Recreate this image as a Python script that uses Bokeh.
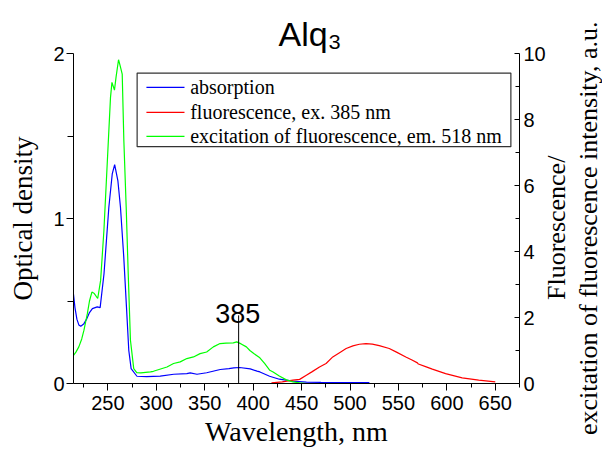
from bokeh.plotting import figure
from bokeh.layouts import row
from bokeh.models import (Range1d, LinearAxis, FixedTicker, SingleIntervalTicker,
                          Label, Arrow, Div)
from bokeh.embed import file_html
from bokeh.resources import INLINE

# ---------------- data ----------------
abs_wavelength = [214.5, 216, 218, 220, 222, 225, 228, 231, 234, 239, 242, 246, 251,
                  254.5, 257, 260.3, 263, 266.4, 269.2, 271.6, 274, 280, 290, 304, 318,
                  331.5, 335, 342, 352, 366, 375, 380, 386, 397, 404, 407, 417, 427,
                  434, 441, 451, 455, 470, 490, 520]
absorption = [0.54, 0.46, 0.39, 0.355, 0.347, 0.36, 0.39, 0.43, 0.454, 0.464, 0.46,
              0.665, 1.068, 1.27, 1.327, 1.23, 1.068, 0.766, 0.463, 0.20, 0.09, 0.044,
              0.042, 0.045, 0.056, 0.06, 0.064, 0.056, 0.065, 0.085, 0.09, 0.095,
              0.097, 0.089, 0.075, 0.07, 0.044, 0.026, 0.02, 0.014, 0.01, 0.008,
              0.007, 0.006, 0.006]

exc_wavelength = [214.5, 217, 220, 223, 225.3, 228.8, 231, 233.5, 236, 239.5, 242.5,
                  245.9, 249.3, 252.7, 254.2, 256.8, 258.5, 261, 262.5, 264.8, 266.5,
                  268.9, 271, 273.3, 276.7, 280, 284, 294, 297, 311, 317.8, 324.7,
                  331.5, 338.4, 345.2, 352, 358.9, 365.8, 372, 379.5, 383, 387.6, 393,
                  396.6, 401, 406.9, 412, 417.2, 420.6, 427, 434.3, 441, 448, 455]
excitation = [0.855, 0.95, 1.11, 1.35, 1.615, 2.115, 2.5, 2.77, 2.725, 2.575, 3.125,
              4.635, 6.65, 8.67, 9.125, 8.89, 9.3, 9.81, 9.65, 9.375, 7.35, 5.35,
              3.325, 1.31, 0.45, 0.325, 0.32, 0.35, 0.37, 0.5, 0.605, 0.655, 0.755,
              0.805, 0.905, 0.955, 1.11, 1.21, 1.225, 1.23, 1.26, 1.2, 1.11, 1.0, 0.9,
              0.78, 0.6, 0.4, 0.35, 0.225, 0.11, 0.05, 0.02, 0.0]

fl_wavelength = [418.9, 430, 441.1, 448, 454.9, 461, 468.5, 475.3, 482.2, 490, 496, 503,
                 509.6, 516.5, 523, 530.2, 540.5, 548, 557.6, 564, 569.6, 570.6, 578,
                 585, 598.7, 615.8, 632.9, 650]
fluorescence = [0.02, 0.05, 0.1, 0.125, 0.25, 0.36, 0.5, 0.605, 0.805, 0.95, 1.06, 1.14,
                1.19, 1.21, 1.195, 1.15, 1.06, 0.95, 0.805, 0.71, 0.625, 0.59, 0.51,
                0.435, 0.30, 0.17, 0.10, 0.05]

series_names = ["absorption", "fluorescence, ex. 385 nm",
                "excitation of fluorescence, em. 518 nm"]
series_colors = ["#0000ff", "#ff0000", "#00ff00"]
left_ticks = [0, 1, 2]
right_ticks = [0, 2, 4, 6, 8, 10]
right_title_lines = ["Fluorescence/", "excitation of fluorescence intensity, a.u."]
marker_wavelength = 385

SERIF = "Liberation Serif"
SANS = "Liberation Sans"

p = figure(width=548, height=450, output_backend="svg", toolbar_location=None,
           x_range=Range1d(214.5, 675), y_range=Range1d(0, 2),
           min_border_left=73, min_border_right=27, min_border_top=53,
           min_border_bottom=67)
p.outline_line_color = None
p.xgrid.visible = False
p.ygrid.visible = False
p.background_fill_color = "white"
p.border_fill_color = "white"

# title  Alq3
p.title.text = "Alq\u2083"
p.title.text_font = SANS
p.title.text_font_size = "34px"
p.title.text_font_style = "normal"
p.title.text_color = "black"
p.title.align = "left"
p.title.offset = 205
if "standoff" in p.title.properties():
    p.title.standoff = 2

p.extra_y_ranges = {"right": Range1d(0, 10)}

# bottom axis
xa = p.xaxis[0]
xa.ticker = SingleIntervalTicker(interval=50, num_minor_ticks=2)
xa.axis_label = "Wavelength, nm"
xa.axis_label_text_font = SERIF
xa.axis_label_text_font_size = "28px"
xa.axis_label_text_font_style = "normal"
xa.axis_label_standoff = 3
xa.major_label_text_font = SANS
xa.major_label_text_font_size = "20px"
xa.major_label_standoff = 5
xa.major_tick_out = 7
xa.major_tick_in = 0
xa.minor_tick_out = 4
xa.minor_tick_in = 0

# left axis
ya = p.yaxis[0]
ya.ticker = FixedTicker(ticks=left_ticks, minor_ticks=[0.5, 1.5])
ya.axis_label = "Optical density"
ya.axis_label_text_font = SERIF
ya.axis_label_text_font_size = "27px"
ya.axis_label_text_font_style = "normal"
ya.axis_label_standoff = 12
ya.major_label_text_font = SANS
ya.major_label_text_font_size = "20px"
ya.major_label_standoff = 2
ya.major_tick_out = 7
ya.major_tick_in = 0
ya.minor_tick_out = 6
ya.minor_tick_in = 0

# right axis (its two-line title sits in the text block to the right)
ra = LinearAxis(y_range_name="right",
                ticker=FixedTicker(ticks=right_ticks, minor_ticks=[1, 3, 5, 7, 9]))
ra.major_label_text_font = SANS
ra.major_label_text_font_size = "20px"
ra.major_label_standoff = 4
ra.major_tick_in = 5
ra.major_tick_out = 0
ra.minor_tick_in = 4
ra.minor_tick_out = 0
p.add_layout(ra, "right")

for ax in (xa, ya, ra):
    ax.axis_line_color = "black"
    ax.major_tick_line_color = "black"
    ax.minor_tick_line_color = "black"
    ax.major_label_text_color = "black"
    ax.axis_label_text_color = "black"

# legend box (drawn first, under everything)
p.quad(left=[280.2], right=[666.1], bottom=[1.4356], top=[1.8815],
       fill_color="white", line_color="#333333", line_width=1.2)

# curves
p.line(abs_wavelength, absorption, line_color=series_colors[0], line_width=1.2)
p.line(fl_wavelength, fluorescence, line_color=series_colors[1], line_width=1.2,
       y_range_name="right")
p.line(exc_wavelength, excitation, line_color=series_colors[2], line_width=1.2,
       y_range_name="right")

# legend sample lines and labels
row_y = [1.7943, 1.6431, 1.4979]
p.segment(x0=[289.8] * 3, y0=row_y, x1=[329.1] * 3, y1=row_y,
          line_color=series_colors, line_width=1.2)
for name, yy in zip(series_names, row_y):
    p.add_layout(Label(x=335.0, y=yy, text=name, text_font=SERIF,
                       text_font_size="20px", text_align="left",
                       text_baseline="middle", text_color="black"))

# 385 marker
p.add_layout(Arrow(x_start=marker_wavelength, y_start=0.413,
                   x_end=marker_wavelength, y_end=-0.16, end=None,
                   line_color="black", line_width=1))
p.add_layout(Label(x=marker_wavelength - 1, y=0.427, text=str(marker_wavelength),
                   text_font=SANS, text_font_size="27px",
                   text_align="center", text_baseline="alphabetic",
                   text_color="black"))

# right-axis title: two lines reading bottom-to-top
right_title_html = (
    '<div style="position:relative;width:54px;height:450px;overflow:visible;">'
    '<div style="position:absolute;left:-7px;top:3px;width:64px;height:450px;'
    'writing-mode:vertical-rl;transform:rotate(180deg);text-align:center;'
    "font-family:'Liberation Serif';font-size:26px;line-height:32px;"
    'white-space:nowrap;color:#000000;">'
    + "<br>".join(right_title_lines) +
    '</div></div>')
right_title = Div(text=right_title_html, width=54, height=450,
                  styles={"overflow": "visible", "margin": "0", "padding": "0"})

layout = row(p, right_title, spacing=0)
open("out.html", "w").write(file_html(layout, INLINE))
